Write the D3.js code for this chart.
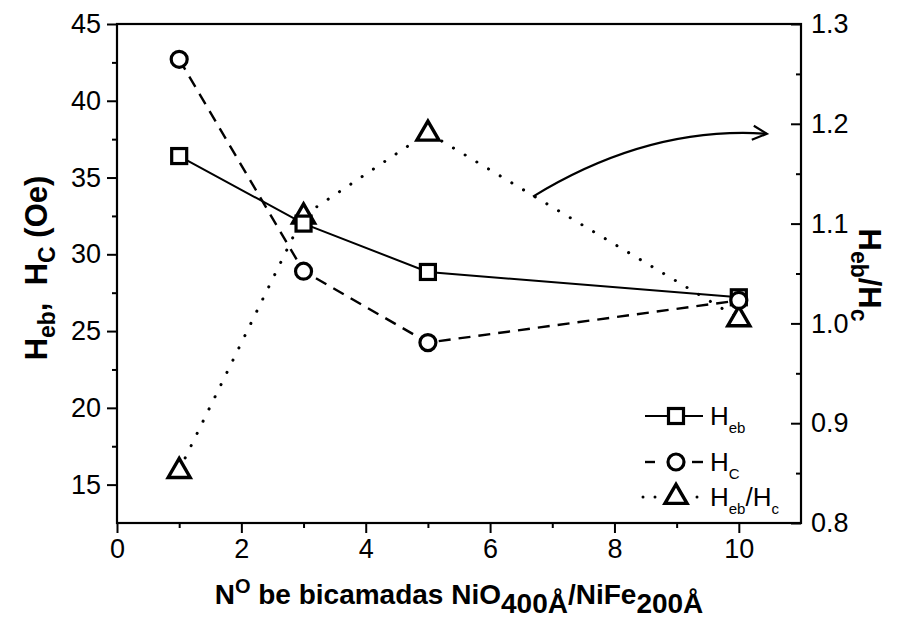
<!DOCTYPE html>
<html><head><meta charset="utf-8">
<script src="https://d3js.org/d3.v7.min.js"></script>
<style>body{margin:0;background:#fff}svg{display:block}text{font-family:"Liberation Sans",Arial,sans-serif;fill:#000}</style>
</head><body><svg id="c" width="902" height="624"></svg>
<script>
const layers = [1, 3, 5, 10];
const heb = [36.4, 32.0, 28.85, 27.2];
const hc = [42.7, 28.9, 24.25, 27.0];
const ratio = [0.853, 1.108, 1.191, 1.005];
const xTicks = [0, 2, 4, 6, 8, 10];
const yLeftTicks = [15, 20, 25, 30, 35, 40, 45];
const yRightTicks = [0.8, 0.9, 1.0, 1.1, 1.2, 1.3];
// arrow annotation (x, ratio-axis units): start, control, end
const arrowPts = [[6.69, 1.127], [8.55, 1.198], [10.45, 1.19]];

const svg = d3.select("#c");
const L = 117, R = 801, T = 24, B = 523;
const x = d3.scaleLinear().domain([0, 11]).range([L, R]);
const yl = d3.scaleLinear().domain([12.5, 45]).range([B, T]);
const yr = d3.scaleLinear().domain([0.8, 1.3]).range([B, T]);
const FS = 27;

// frame
svg.append("rect").attr("x", L).attr("y", T).attr("width", R - L).attr("height", B - T)
  .attr("fill", "none").attr("stroke", "#000").attr("stroke-width", 2.2);

// bottom axis
const gx = svg.append("g").attr("transform", `translate(0,${B})`);
gx.call(d3.axisBottom(x).tickValues(d3.range(1, 11, 2)).tickSize(5).tickFormat(""));
gx.call(g => g.selectAll(".domain").remove());
const gx2 = svg.append("g").attr("transform", `translate(0,${B})`);
gx2.call(d3.axisBottom(x).tickValues(xTicks).tickSize(10).tickPadding(6).tickFormat(d3.format("d")));
gx2.select(".domain").remove();
// left axis
const gyl = svg.append("g").attr("transform", `translate(${L},0)`);
gyl.call(d3.axisLeft(yl).tickValues(d3.range(17.5, 45, 5)).tickSize(5).tickFormat(""));
gyl.select(".domain").remove();
const gyl2 = svg.append("g").attr("transform", `translate(${L},0)`);
gyl2.call(d3.axisLeft(yl).tickValues(yLeftTicks).tickSize(10).tickPadding(6).tickFormat(d3.format("d")));
gyl2.select(".domain").remove();
// right axis (ticks inward)
const gyr = svg.append("g").attr("transform", `translate(${R},0)`);
gyr.call(d3.axisLeft(yr).tickValues(d3.range(0.85, 1.3, 0.1)).tickSize(5).tickFormat(""));
gyr.select(".domain").remove();
const gyr2 = svg.append("g").attr("transform", `translate(${R},0)`);
gyr2.call(d3.axisLeft(yr).tickValues(yRightTicks).tickSize(10).tickPadding(0).tickFormat(d3.format(".1f")));
gyr2.select(".domain").remove();
gyr2.selectAll("text").attr("text-anchor", "start").attr("x", 10);

svg.selectAll(".tick line").attr("stroke", "#000").attr("stroke-width", 2);
svg.selectAll(".tick text").style("font-size", FS + "px").style("font-family", "Liberation Sans, Arial, sans-serif");

// series lines
const ptsHeb = layers.map((d, i) => [x(d), yl(heb[i])]);
const ptsHc = layers.map((d, i) => [x(d), yl(hc[i])]);
const ptsR = layers.map((d, i) => [x(d), yr(ratio[i])]);
const line = d3.line();
svg.append("path").attr("d", line(ptsHeb)).attr("fill", "none").attr("stroke", "#000").attr("stroke-width", 2);
svg.append("path").attr("d", line(ptsHc)).attr("fill", "none").attr("stroke", "#000").attr("stroke-width", 2.4).attr("stroke-dasharray", "12,8");
svg.append("path").attr("d", line(ptsR)).attr("fill", "none").attr("stroke", "#000").attr("stroke-width", 3).attr("stroke-linecap", "round").attr("stroke-dasharray", "0.1,13.5");

// arrow annotation
const ap = arrowPts.map(p => [x(p[0]), yr(p[1])]);
svg.append("path").attr("d", `M${ap[0][0]},${ap[0][1]} Q${ap[1][0]},${ap[1][1]} ${ap[2][0]},${ap[2][1]}`)
  .attr("fill", "none").attr("stroke", "#000").attr("stroke-width", 2.2);
svg.append("path").attr("d", `M${ap[2][0] - 13},${ap[2][1] - 8} L${ap[2][0]},${ap[2][1]} L${ap[2][0] - 15},${ap[2][1] + 6}`)
  .attr("fill", "none").attr("stroke", "#000").attr("stroke-width", 2.2);

// markers
const tri = d3.symbol().type(d3.symbolTriangle).size(210);
function square(g, cx, cy) { g.append("rect").attr("x", cx - 7.5).attr("y", cy - 7.5).attr("width", 15).attr("height", 15).attr("fill", "#fff").attr("stroke", "#000").attr("stroke-width", 3.2); }
function circle(g, cx, cy) { g.append("circle").attr("cx", cx).attr("cy", cy).attr("r", 8).attr("fill", "#fff").attr("stroke", "#000").attr("stroke-width", 3.2); }
function triangle(g, cx, cy) { g.append("path").attr("d", tri()).attr("transform", `translate(${cx},${cy + 1})`).attr("fill", "#fff").attr("stroke", "#000").attr("stroke-width", 3.4).attr("stroke-linejoin", "miter"); }
const mk = svg.append("g");
ptsR.forEach(p => triangle(mk, p[0], p[1]));
ptsHeb.forEach(p => square(mk, p[0], p[1]));
ptsHc.forEach(p => circle(mk, p[0], p[1]));

// legend
const lg = svg.append("g");
const lx0 = 645, lx1 = 703, lmid = 676, ltx = 710;
const rows = [416, 462, 497];
lg.append("line").attr("x1", lx0).attr("x2", lx1).attr("y1", rows[0]).attr("y2", rows[0]).attr("stroke", "#000").attr("stroke-width", 2);
square(lg, lmid, rows[0]);
[[lx0, 655], [692, lx1]].forEach(s => lg.append("line").attr("x1", s[0]).attr("x2", s[1]).attr("y1", rows[1]).attr("y2", rows[1]).attr("stroke", "#000").attr("stroke-width", 2.4));
circle(lg, lmid, rows[1]);
[643, 655, 683, 697].forEach(cx => lg.append("circle").attr("cx", cx).attr("cy", rows[2]).attr("r", 1.5).attr("fill", "#000"));
triangle(lg, lmid, rows[2] - 1);
function sub(t, main, s, subSize) { t.append("tspan").text(main); t.append("tspan").text(s).attr("dy", 8).style("font-size", subSize + "px"); }
const t1 = lg.append("text").attr("x", ltx).attr("y", rows[0] + 9).style("font-size", "26px");
sub(t1, "H", "eb", 15);
const t2 = lg.append("text").attr("x", ltx).attr("y", rows[1] + 9).style("font-size", "26px");
sub(t2, "H", "C", 15);
const t3 = lg.append("text").attr("x", ltx).attr("y", rows[2] + 9).style("font-size", "26px");
t3.append("tspan").text("H"); t3.append("tspan").text("eb").attr("dy", 8).style("font-size", "15px");
t3.append("tspan").text("/H").attr("dy", -8); t3.append("tspan").text("c").attr("dy", 8).style("font-size", "15px");

// left title
const lt = svg.append("text").attr("transform", "translate(47,268) rotate(-90)").attr("text-anchor", "middle")
  .style("font-size", "31px").style("font-weight", "bold").attr("xml:space", "preserve");
lt.append("tspan").text("H"); lt.append("tspan").text("eb").attr("dy", 8).style("font-size", "23px");
lt.append("tspan").text(",  H").attr("dy", -8); lt.append("tspan").text("C").attr("dy", 8).style("font-size", "23px");
lt.append("tspan").text(" (Oe)").attr("dy", -8);

// right title
const rt = svg.append("text").attr("transform", "translate(859,275) rotate(90)").attr("text-anchor", "middle")
  .style("font-size", "31px").style("font-weight", "bold");
rt.append("tspan").text("H"); rt.append("tspan").text("eb").attr("dy", 8).style("font-size", "23px");
rt.append("tspan").text("/H").attr("dy", -8); rt.append("tspan").text("c").attr("dy", 8).style("font-size", "23px");

// bottom title
const bt = svg.append("text").attr("x", 459).attr("y", 604).attr("text-anchor", "middle")
  .style("font-size", "28px").style("font-weight", "bold");
bt.append("tspan").text("N");
bt.append("tspan").text("O").attr("dy", -11).style("font-size", "20px");
bt.append("tspan").text(" be bicamadas NiO").attr("dy", 11);
bt.append("tspan").text("400Å").attr("dy", 9);
bt.append("tspan").text("/NiFe").attr("dy", -9);
bt.append("tspan").text("200Å").attr("dy", 9);
</script></body></html>
